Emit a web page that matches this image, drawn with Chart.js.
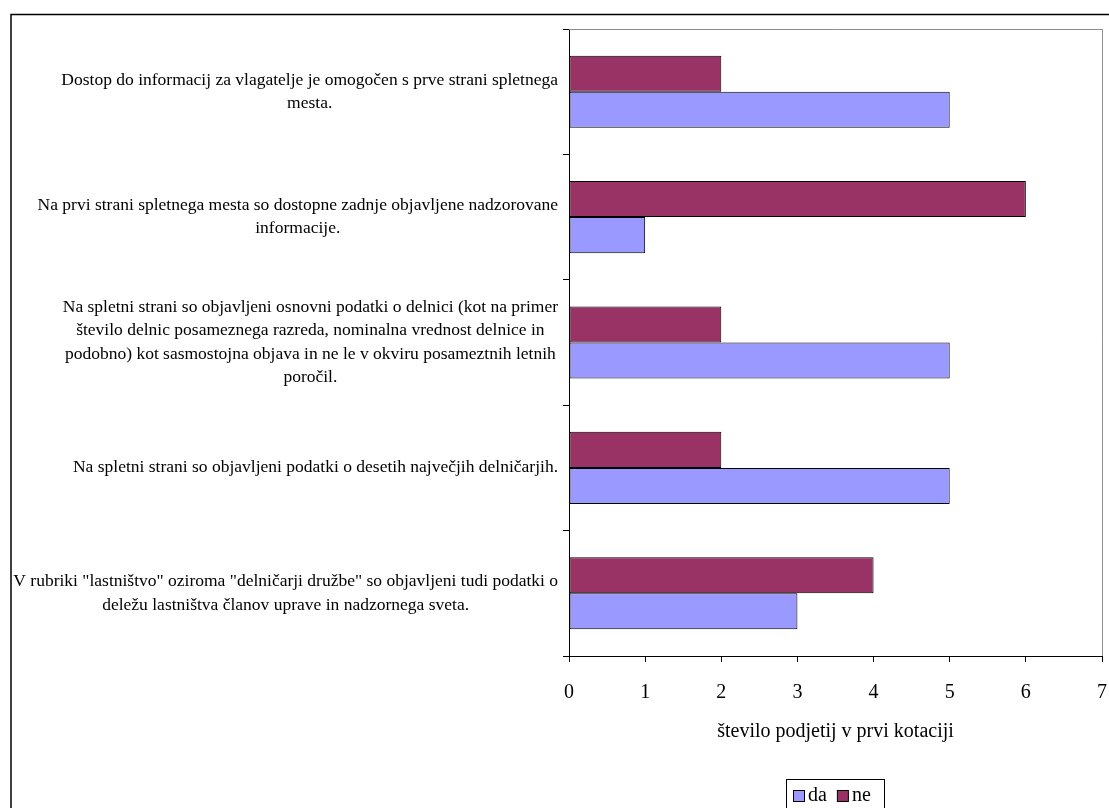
<!DOCTYPE html>
<html>
<head>
<meta charset="utf-8">
<script src="https://cdn.jsdelivr.net/npm/chart.js@4/dist/chart.umd.min.js"></script>
<style>
  html, body { margin: 0; padding: 0; background: #fff; }
  #wrap { width: 1109px; height: 808px; position: relative; }
</style>
</head>
<body>
<div id="wrap"><canvas id="c" width="1109" height="808"></canvas></div>
<script>
const categories = [
  ["Dostop do informacij za vlagatelje je omogočen s prve strani spletnega", "mesta."],
  ["Na prvi strani spletnega mesta so dostopne zadnje objavljene nadzorovane", "informacije."],
  ["Na spletni strani so objavljeni osnovni podatki o delnici (kot na primer", "število delnic posameznega razreda, nominalna vrednost delnice in", "podobno) kot sasmostojna objava in ne le v okviru posameztnih letnih", "poročil."],
  ["Na spletni strani so objavljeni podatki o desetih največjih delničarjih."],
  ["V rubriki \"lastništvo\" oziroma \"delničarji družbe\" so objavljeni tudi podatki o", "deležu lastništva članov uprave in nadzornega sveta."]
];
const seriesNames = ["da", "ne"];
const daValues = [5, 1, 5, 5, 3];
const neValues = [2, 6, 2, 2, 4];
const xTicks = [0, 1, 2, 3, 4, 5, 6, 7];
const xTitle = "število podjetij v prvi kotaciji";

const COL_DA = "#9999FF";
const COL_NE = "#993366";
const FONT = "'Liberation Serif', 'Times New Roman', serif";

const decor = {
  id: 'decor',
  beforeDraw(chart) {
    const ctx = chart.ctx;
    ctx.save();
    ctx.fillStyle = '#fff';
    ctx.fillRect(0, 0, chart.width, chart.height);
    ctx.restore();
  },
  afterDatasetsDraw(chart) {
    const ctx = chart.ctx;
    const a = chart.chartArea;
    ctx.save();
    ctx.strokeStyle = '#8c8c8c';
    ctx.lineWidth = 1;
    ctx.beginPath();
    ctx.moveTo(a.left, a.top + 0.5);
    ctx.lineTo(a.right + 0.5, a.top + 0.5);
    ctx.lineTo(a.right + 0.5, a.bottom);
    ctx.stroke();
    ctx.restore();
  },
  afterDraw(chart) {
    const ctx = chart.ctx;
    const ys = chart.scales.y;
    ctx.save();
    // outer border
    ctx.strokeStyle = '#000';
    ctx.lineWidth = 1.5;
    ctx.beginPath();
    ctx.moveTo(11, 820);
    ctx.lineTo(11, 14.5);
    ctx.lineTo(1120, 14.5);
    ctx.stroke();

    // category labels
    ctx.font = "17.5px " + FONT;
    ctx.fillStyle = '#000';
    ctx.textAlign = 'center';
    ctx.textBaseline = 'middle';
    const lh = 23.5;
    const rightEdge = 558;
    categories.forEach((lines, i) => {
      const cy = ys.getPixelForValue(i);
      let maxW = 0;
      lines.forEach(l => { maxW = Math.max(maxW, ctx.measureText(l).width); });
      const cx = rightEdge - maxW / 2;
      const y0 = cy - (lines.length - 1) * lh / 2;
      lines.forEach((l, k) => ctx.fillText(l, cx, y0 + k * lh));
    });

    // legend
    const lx = 786, ly = 779, lw = 98, lhBox = 40;
    ctx.strokeStyle = '#000';
    ctx.lineWidth = 1;
    ctx.strokeRect(lx + 0.5, ly + 0.5, lw, lhBox);
    ctx.font = "20px " + FONT;
    ctx.textAlign = 'left';
    ctx.textBaseline = 'middle';
    const items = [{t: seriesNames[0], c: COL_DA}, {t: seriesNames[1], c: COL_NE}];
    let x = 793;
    const cyL = 796;
    items.forEach(it => {
      ctx.fillStyle = it.c;
      ctx.fillRect(x + 0.5, cyL - 5.5, 11, 11);
      ctx.strokeStyle = '#000';
      ctx.strokeRect(x + 0.5, cyL - 5.5, 11, 11);
      ctx.fillStyle = '#000';
      ctx.fillText(it.t, x + 15, cyL);
      x += 15 + ctx.measureText(it.t).width + 10;
    });
    ctx.restore();
  }
};

new Chart(document.getElementById('c'), {
  type: 'bar',
  data: {
    labels: categories.map(l => l.join(' ')),
    datasets: [
      { label: seriesNames[1], data: neValues, backgroundColor: COL_NE, borderColor: '#000', borderWidth: 1, borderSkipped: false },
      { label: seriesNames[0], data: daValues, backgroundColor: COL_DA, borderColor: '#000', borderWidth: 1, borderSkipped: false }
    ]
  },
  options: {
    indexAxis: 'y',
    responsive: false,
    animation: false,
    devicePixelRatio: 1,
    layout: { padding: { top: 29, right: 7, left: 0, bottom: 0 } },
    datasets: { bar: { categoryPercentage: 0.575, barPercentage: 1.0 } },
    plugins: { legend: { display: false }, tooltip: { enabled: false } },
    scales: {
      x: {
        type: 'linear',
        min: xTicks[0],
        max: xTicks[xTicks.length - 1],
        afterBuildTicks(scale) { scale.ticks = xTicks.map(v => ({ value: v })); },
        afterFit(scale) { scale.height = 808 - 656; scale.paddingRight = 0; scale.paddingLeft = 0; },
        grid: { drawOnChartArea: false, drawTicks: true, tickLength: 6, color: '#000', tickColor: '#000' },
        border: { display: true, color: '#000', width: 1 },
        ticks: { color: '#000', font: { family: FONT, size: 20 }, padding: 19, maxRotation: 0 },
        title: { display: true, text: xTitle, color: '#000', font: { family: FONT, size: 20 }, padding: { top: 0, bottom: 64 } }
      },
      y: {
        type: 'category',
        offset: true,
        afterFit(scale) { scale.width = 569; },
        grid: { offset: true, drawOnChartArea: false, drawTicks: true, tickLength: 6, color: '#000', tickColor: '#000' },
        border: { display: true, color: '#000', width: 1 },
        ticks: { display: false }
      }
    }
  },
  plugins: [decor]
});
</script>
</body>
</html>
